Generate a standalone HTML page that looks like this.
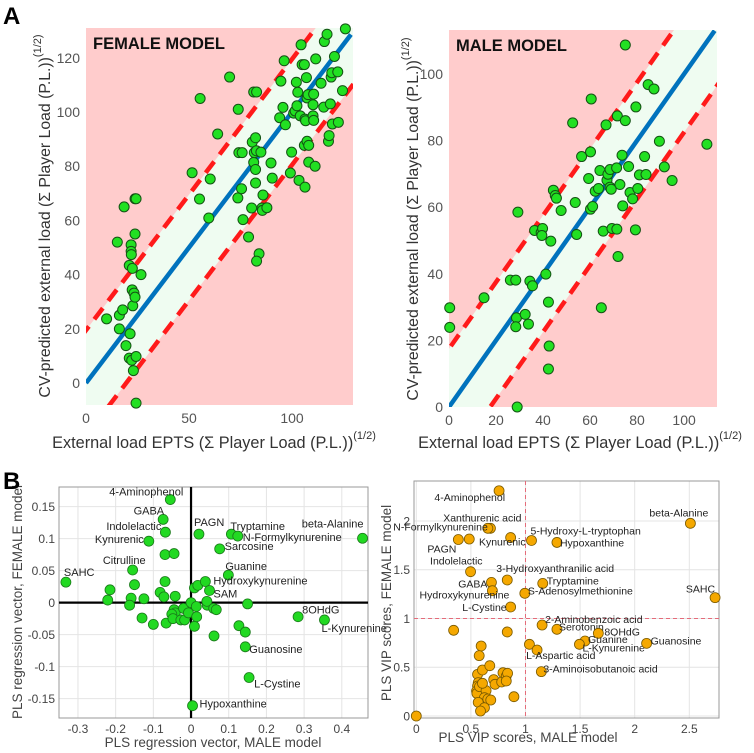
<!DOCTYPE html>
<html><head><meta charset="utf-8"><style>
html,body{margin:0;padding:0;background:#fff;}
svg{display:block;font-family:"Liberation Sans",sans-serif;}
</style></head><body>
<svg id="fig" width="754" height="753" viewBox="0 0 754 753" xmlns="http://www.w3.org/2000/svg"></svg>
<script>
// ---------- DATA ----------
const femaleX=[10,15.2,16.2,16.2,17.8,18.5,19.4,21,21.4,21,21.9,21.9,22,22.5,22.7,22.4,23,22.2,23.8,24.3,23.8,23.3,23.8,24.3,24.3,26.7,51.5,55.1,55.4,59.6,60.3,63.9,69.7,73.7,73.9,74.2,75.8,75.5,76.2,78.9,80.4,80.7,81.4,81.4,81.7,82.3,82.3,82.3,82.8,82.7,84,82.8,84.9,85.4,85.6,85.9,87.8,89.8,90.4,94,94.6,95.6,96.2,96.8,99.2,99.8,100.8,101.5,102.1,102.4,102.8,103.4,104,104.4,104.9,106,106,106.3,106.3,106.6,107,107.3,107.3,107.8,108.1,108.1,110.2,110.2,110.5,110.5,111.2,111.5,114.1,115.4,115.7,117,117.7,118,118.6,119,119.3,119.6,120.6,122.2,122.5,124.5,125.9];
const femaleY=[23.7,52,25,20,27,65,13.8,43.4,18.2,9.2,51,48.6,47.4,42.3,28.5,34.4,4.6,8.4,68,68,55,33.2,31.7,9.8,-7.4,40,77.6,67.9,105,60.9,75.3,91.9,112.9,68.3,101,85,85,71.7,60.3,53.9,64.6,88.9,81.4,107.4,85,90.5,78.8,73.8,107.4,85.7,47.7,45,85.2,64.6,63.7,69.4,64.7,81.2,75.6,97.9,111.4,101.7,118.9,95.3,77.5,85.2,99.6,100.4,111,102.3,107.3,74.8,98.6,124.8,117.5,117.5,87.7,72.3,97.4,96.8,112.7,105.2,89.2,106.4,87.7,81.5,102.7,98.6,106.6,96.9,80,119.6,110.6,101.8,126,128.7,89.2,91.3,103,112.9,114.5,95.6,120.5,114.8,96.2,107.9,130.7];
const maleX=[0.3,0.3,14.9,26.1,28.4,28.7,28.4,29,29.3,32.4,33.8,34.4,35.5,36.4,39.2,39.8,39.5,41.2,42.3,42.6,42.3,43.3,44.4,45.2,45.7,47.7,52.6,53.7,54.3,56.4,59.4,60.2,60.5,60.2,61.1,62.2,63.6,64.2,64.8,65.6,66.8,67.2,67.6,68.5,68.5,69,69.3,71.3,71.4,71.6,71.9,72.7,73.6,73.9,75,75,76.4,77,78.1,79.3,79.5,80.3,81,83.2,83.8,84.7,87.2,89.5,91.6,94.9,109.7];
const maleY=[29.8,23.9,32.8,38.1,38.1,26.8,24.1,0,58.5,27.8,24.9,37.8,36.4,53,52.4,53.6,51.5,39.9,31.5,18.3,11.4,49.8,65.1,63.5,62.7,59,85.3,61.4,51.8,75.2,68.6,76.6,92.5,59.4,60.2,64.8,65.6,71,29.8,52.8,84.7,68.1,69.9,71.3,66,65.4,53.6,71.8,53.4,87.4,45.2,66.8,75.6,60.4,108.7,86,72.2,64.4,62.5,53.2,90.1,65.6,69.7,75.2,69.8,96.8,95.5,79.8,72.1,68,78.9];
const femaleBand=19.5, maleBand=17.5;

const regNames=["SAHC","4-Aminophenol","GABA","Indolelactic","Kynurenic","Citrulline","PAGN","Tryptamine","N-Formylkynurenine","Sarcosine","beta-Alanine","Guanine","Hydroxykynurenine","SAM","8OHdG","L-Kynurenine","Guanosine","L-Cystine","Hypoxanthine"];
const regX=[-0.332,-0.055,-0.074,-0.068,-0.112,-0.155,0.021,0.107,0.124,0.076,0.455,0.099,0.038,0.049,0.284,0.354,0.144,0.154,0.004];
const regY=[0.032,0.161,0.130,0.110,0.096,0.051,0.107,0.107,0.104,0.084,0.1005,0.043,0.033,0.019,-0.022,-0.027,-0.069,-0.117,-0.161];
const regOtherX=[-0.069,-0.045,-0.069,-0.221,-0.215,-0.150,-0.159,-0.163,-0.125,-0.130,-0.100,-0.082,-0.072,-0.042,-0.066,-0.045,-0.042,-0.051,-0.048,-0.020,-0.027,-0.017,-0.007,0,0.009,0.018,0.014,0.009,0.015,0.043,0.042,0.060,0.067,0.061,0.127,0.144,0.150];
const regOtherY=[0.075,0.0766,0.033,0.004,0.020,0.028,0.007,-0.004,0.006,-0.024,-0.034,0.016,0.009,0.010,-0.032,-0.011,-0.016,-0.018,-0.025,-0.009,-0.027,-0.027,-0.016,0,0.023,0.027,-0.006,-0.037,-0.022,-0.004,0.002,-0.009,-0.011,-0.052,-0.036,-0.046,-0.002];
const regXTicks=[-0.3,-0.2,-0.1,0,0.1,0.2,0.3,0.4];
const regXTickLabels=["-0.3","-0.2","-0.1","0","0.1","0.2","0.3","0.4"];
const regYTicks=[-0.15,-0.1,-0.05,0,0.05,0.1,0.15];
const regYTickLabels=["-0.15","-0.1","-0.05","0","0.05","0.1","0.15"];

const vipNames=["4-Aminophenol","beta-Alanine","Xanthurenic acid","N-Formylkynurenine","Kynurenic","5-Hydroxy-L-tryptophan","Hypoxanthine","PAGN","Indolelactic","3-Hydroxyanthranilic acid","GABA","Tryptamine","Hydroxykynurenine","S-Adenosylmethionine","L-Cystine","SAHC","2-Aminobenzoic acid","Serotonin","8OHdG","Guanine","L-Kynurenine","Guanosine","L-Aspartic acid","3-Aminoisobutanoic acid"];
const vipX=[0.758,2.51,0.679,0.655,0.864,1.055,1.288,0.385,0.497,0.833,0.688,1.158,0.697,0.994,0.864,2.736,1.152,1.288,1.667,1.545,1.494,2.109,1.106,1.145];
const vipY=[2.31,1.976,1.925,1.925,1.83,1.80,1.78,1.81,1.48,1.395,1.37,1.36,1.285,1.258,1.118,1.214,0.933,0.889,0.848,0.769,0.735,0.745,0.677,0.455];
const vipOtherX=[0.485,0,0.342,0.833,1.036,0.594,0.576,0.561,0.606,0.673,0.567,0.561,0.552,0.555,0.579,0.639,0.624,0.567,0.655,0.682,0.624,0.588,0.709,0.721,0.782,0.794,0.824,0.836,0.824,0.894,0.606];
const vipOtherY=[1.815,0,0.879,0.862,0.735,0.718,0.619,0.427,0.472,0.516,0.342,0.308,0.256,0.232,0.301,0.260,0.188,0.140,0.174,0.164,0.085,0.051,0.373,0.325,0.349,0.444,0.410,0.438,0.359,0.198,0.335];
const vipXTicks=[0,0.5,1,1.5,2,2.5];
const vipXTickLabels=["0","0.5","1","1.5","2","2.5"];
const vipYTicks=[0,0.5,1,1.5,2];
const vipYTickLabels=["0","0.5","1","1.5","2"];

// ---------- LAYOUT (label offsets: [dx,dy,anchor]) ----------
const regLabelLayout=[[-2,-6,"start"],[13,-4,"end"],[1,-5,"end"],[-4,-2,"end"],[-5,2,"end"],[13,-6,"end"],[-5,-8,"start"],[-1,-4,"start"],[5,5,"start"],[5,1,"start"],[1,-11,"end"],[-3,-5,"start"],[8,3,"start"],[4,7,"start"],[4,-3,"start"],[-3,12,"start"],[4,6,"start"],[5,10,"start"],[7,2,"start"]];
const vipLabelLayout=[[6,10,"end"],[18,-7,"end"],[31,-7,"end"],[0,2,"end"],[15,8,"end"],[-1,-6,"start"],[3,4,"start"],[-2,13,"end"],[12,-7,"end"],[-11,-8,"start"],[-4,5,"end"],[4,1,"start"],[17,8,"end"],[3,1,"start"],[-4,4,"end"],[0,-5,"end"],[3,-2,"start"],[2,1,"start"],[6,2,"start"],[3,2,"start"],[3,7,"start"],[4,1,"start"],[-11,9,"start"],[2,1,"start"]];

const NS="http://www.w3.org/2000/svg";
const svg=document.getElementById('fig');
function mk(tag,attrs,parent){const e=document.createElementNS(NS,tag);for(const k in attrs)e.setAttribute(k,attrs[k]);(parent||svg).appendChild(e);return e;}
function lin(d0,d1,r0,r1){return v=>r0+(v-d0)*(r1-r0)/(d1-d0);}
let clipId=0;

function predPanel(o){
  const g=mk('g',{});
  
  
  const sx=lin(o.x0,o.x1,o.L,o.R), sy=lin(o.y0,o.y1,o.B,o.T);
  const cid='c'+(clipId++);
  const cp=mk('clipPath',{id:cid},g); mk('rect',{x:o.L,y:o.T,width:o.R-o.L,height:o.B-o.T},cp);
  const bg=mk('rect',{x:o.L,y:o.T,width:o.R-o.L,height:o.B-o.T,fill:'#ffcccc'},g);
  
  
  const xa=o.x0-50,xb=o.x1+50,b=o.band;
  const band=mk('polygon',{points:[[sx(xa),sy(xa+b)],[sx(xb),sy(xb+b)],[sx(xb),sy(xb-b)],[sx(xa),sy(xa-b)]].map(p=>p.join(',')).join(' '),fill:'#effcf1','clip-path':`url(#${cid})`},g);
  
  
  for(const s of [1,-1]){
    const dl=mk('line',{x1:sx(xa),y1:sy(xa+s*b),x2:sx(xb),y2:sy(xb+s*b),stroke:'#ff1a1a','stroke-width':4.5,'stroke-dasharray':'14,9','clip-path':`url(#${cid})`},g);
    
    
  }
  const idl=mk('line',{x1:sx(0),y1:sy(0),x2:sx(o.x1-1),y2:sy(o.x1-1),stroke:'#0072bd','stroke-width':4.5,'clip-path':`url(#${cid})`},g);
  
  
  o.xs.forEach((xv,i)=>{
    const c=mk('circle',{cx:sx(xv),cy:sy(o.ys[i]),r:5,fill:'#22e022',stroke:'#145214','stroke-width':1},g);
    
    
  });
  o.xt.forEach(v=>{
    const t=mk('text',{x:sx(v),y:o.B+18,'text-anchor':'middle','font-size':14,fill:'#555'},g);t.textContent=v;
    
    
  });
  o.yt.forEach(v=>{
    const t=mk('text',{x:o.L-6,y:sy(v)+5,'text-anchor':'end','font-size':14,fill:'#555'},g);t.textContent=v;
    
    
  });
  const ti=mk('text',{x:o.L+7,y:o.T+21,'font-size':16.5,'font-weight':'bold',fill:'#111'},g);ti.textContent=o.title;
  
  
  const xt=mk('text',{x:o.xtx,y:448,'text-anchor':'middle','font-size':16.3,fill:'#333'},g);
  xt.innerHTML='External load EPTS (Σ Player Load (P.L.))<tspan font-size="11" dy="-9">(1/2)</tspan>';
  
  
  const yt=mk('text',{x:0,y:0,'text-anchor':'middle','font-size':15.8,fill:'#333',transform:`translate(${o.ytx},${o.yty}) rotate(-90)`},g);
  yt.innerHTML='CV-predicted external load (Σ Player Load (P.L.))<tspan font-size="11" dy="-9">(1/2)</tspan>';
  
  
}

predPanel({name:'female-model-panel',title:'FEMALE MODEL',L:86,R:353,T:28,B:405,x0:0,x1:129.6,y0:-8.1,y1:131,xs:femaleX,ys:femaleY,band:femaleBand,xt:[0,50,100],yt:[0,20,40,60,80,100,120],xtx:214,ytx:50,yty:216});
predPanel({name:'male-model-panel',title:'MALE MODEL',L:449,R:717,T:30,B:407,x0:0,x1:114,y0:0,y1:113.2,xs:maleX,ys:maleY,band:maleBand,xt:[0,20,40,60,80,100],yt:[0,20,40,60,80,100],xtx:580,ytx:418,yty:219});

function scatterPanel(o){
  const g=mk('g',{});
  
  
  const sx=lin(o.x0,o.x1,o.L,o.R), sy=lin(o.y0,o.y1,o.B,o.T);
  const bg=mk('rect',{x:o.L,y:o.T,width:o.R-o.L,height:o.B-o.T,fill:'#fff'},g);
  
  
  o.xt.forEach((v,i)=>{
    const l=mk('line',{x1:sx(v),x2:sx(v),y1:o.T,y2:o.B,stroke:'#e4e4e4','stroke-width':1},g);
    
    
    const t=mk('text',{x:sx(v),y:o.B+15,'text-anchor':'middle','font-size':12,fill:'#444'},g);t.textContent=o.xl[i];
    
    
  });
  o.yt.forEach((v,i)=>{
    const l=mk('line',{x1:o.L,x2:o.R,y1:sy(v),y2:sy(v),stroke:'#e4e4e4','stroke-width':1},g);
    
    
    const t=mk('text',{x:o.L-4,y:sy(v)+4.5,'text-anchor':'end','font-size':12,fill:'#444'},g);t.textContent=o.yl[i];
    
    
  });
  const fr=mk('rect',{x:o.L,y:o.T,width:o.R-o.L,height:o.B-o.T,fill:'none',stroke:'#999','stroke-width':1},g);
  
  
  const [rx,ry]=o.ref;
  const vl=mk('line',{x1:sx(rx),x2:sx(rx),y1:o.T,y2:o.B,stroke:o.refColor,'stroke-width':o.refW,'stroke-dasharray':o.refDash},g);
  
  
  const hl=mk('line',{x1:o.L,x2:o.R,y1:sy(ry),y2:sy(ry),stroke:o.refColor,'stroke-width':o.refW,'stroke-dasharray':o.refDash},g);
  
  
  const pt=(x,y)=>mk('circle',{cx:sx(x),cy:sy(y),r:o.r,fill:o.fill,stroke:o.stroke,'stroke-width':0.8},g);
  o.ox.forEach((x,i)=>{const c=pt(x,o.oy[i]);
    
    
  });
  o.lx.forEach((x,i)=>{const c=pt(x,o.ly[i]);
    
    
    const [dx,dy,an]=o.layout[i];
    const t=mk('text',{x:sx(x)+dx,y:sy(o.ly[i])+dy,'text-anchor':an,'font-size':o.lfs,fill:'#222'},g);t.textContent=o.names[i];
    
    
  });
  const xt=mk('text',{x:o.xtx,y:o.xty,'text-anchor':'middle','font-size':13.5,fill:'#444'},g);xt.textContent=o.xtitle;
  
  
  const yt=mk('text',{x:0,y:0,'text-anchor':'middle','font-size':13.5,fill:'#444',transform:`translate(${o.ytx},${o.yty}) rotate(-90)`},g);yt.textContent=o.ytitle;
  
  
}

scatterPanel({name:'regression-vector-panel',L:59,R:368,T:487,B:718,x0:-0.3503,x1:0.4695,y0:-0.1802,y1:0.1806,xt:regXTicks,xl:regXTickLabels,yt:regYTicks,yl:regYTickLabels,ref:[0,0],refColor:'#000',refW:2.2,refDash:'none',ox:regOtherX,oy:regOtherY,lx:regX,ly:regY,names:regNames,layout:regLabelLayout,lfs:11,r:5,fill:'#22d922',stroke:'#1a7a1a',xtitle:'PLS regression vector, MALE model',xtx:213,xty:747,ytitle:'PLS regression vector, FEMALE model',ytx:22,yty:602});
scatterPanel({name:'vip-scores-panel',L:414,R:719,T:481,B:718,x0:-0.021,x1:2.772,y0:-0.0205,y1:2.41,xt:vipXTicks,xl:vipXTickLabels,yt:vipYTicks,yl:vipYTickLabels,ref:[1,1],refColor:'#e56b7a',refW:1,refDash:'4,3',ox:vipOtherX,oy:vipOtherY,lx:vipX,ly:vipY,names:vipNames,layout:vipLabelLayout,lfs:10.5,r:5,fill:'#f5a800',stroke:'#7a5a00',xtitle:'PLS VIP scores, MALE model',xtx:528,xty:742,ytitle:'PLS VIP scores, FEMALE model',ytx:391,yty:603});

const A=mk('text',{x:3,y:24,'font-size':24,'font-weight':'bold',fill:'#000'});A.textContent='A';


const B=mk('text',{x:3,y:489,'font-size':24,'font-weight':'bold',fill:'#000'});B.textContent='B';


</script>
</body></html>
